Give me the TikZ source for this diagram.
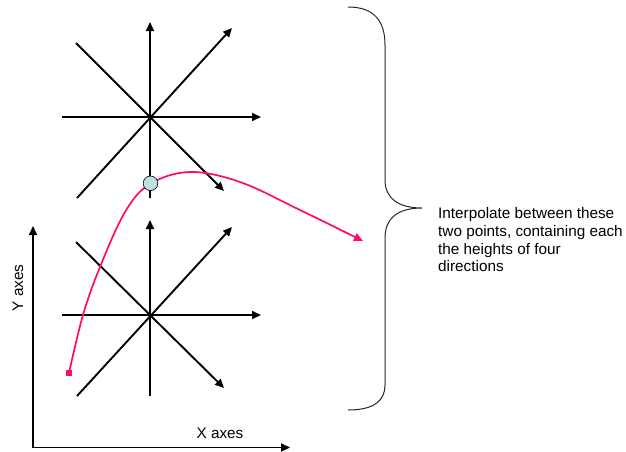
\documentclass[tikz,border=0pt]{standalone}
\usepackage{fontspec}
\setmainfont{Liberation Sans}
\usetikzlibrary{arrows.meta}
\definecolor{pinkline}{HTML}{FF0A6C}
\definecolor{dotfill}{HTML}{BEE0E0}
\begin{document}
\begin{tikzpicture}[x=1pt,y=-1pt,
  ax/.style={line width=1.9pt,black,-{Triangle[length=9pt,width=8pt]}},
  lbl/.style={font=\fontsize{15.3}{17.7}\selectfont,inner sep=0pt}]
\useasboundingbox (0,0) rectangle (626,451);
% top star
\coordinate (tS) at (150,198);
\coordinate (tN) at (150,22);
\coordinate (tW) at (62,117);
\coordinate (tE) at (261,117);
\coordinate (tSW) at (77,198);
\coordinate (tNE) at (232,28);
\coordinate (tNW) at (76,43);
\coordinate (tSE) at (224,191);
\draw[ax] (tS) -- (tN);
\draw[ax] (tW) -- (tE);
\draw[ax] (tSW) -- (tNE);
\draw[ax] (tNW) -- (tSE);
% bottom star
\coordinate (bS) at (150,396);
\coordinate (bN) at (150,220);
\coordinate (bW) at (62,315);
\coordinate (bE) at (261,315);
\coordinate (bSW) at (77,396);
\coordinate (bNE) at (232,227);
\coordinate (bNW) at (76,242);
\coordinate (bSE) at (224,388);
\draw[ax] (bS) -- (bN);
\draw[ax] (bW) -- (bE);
\draw[ax] (bSW) -- (bNE);
\draw[ax] (bNW) -- (bSE);
% axes
\coordinate (O) at (33,447.5);
\coordinate (Yend) at (33,226);
\coordinate (Xend) at (290,447.5);
\draw[ax] (O) -- (Yend);
\draw[ax] (O) -- (Xend);
\node[lbl,anchor=base] (xl) at (220,438.3) {X axes};
\node[lbl,rotate=90] (yl) at (18,288) {Y axes};
% pink curve
\coordinate (cs) at (69,373);
\draw[pinkline,line width=1.7pt,-{Triangle[length=9pt,width=8pt]}]
  plot[smooth,tension=0.6] coordinates {(69,373) (83,315) (100,267) (125,212) (150,184) (190,172) (240,182) (300,210) (363,241)};
\fill[pinkline] (cs) ++(-2.7,-2.7) rectangle ++(5.4,5.4);
\node[circle,draw=black,line width=0.6pt,fill=dotfill,minimum size=14.6pt,inner sep=0pt] (pt) at (150.5,183.3) {};
% brace
\draw[line width=1pt,black!85] (348,7) .. controls (375,7) and (385,22) .. (385,45) -- (385,180)
  .. controls (385,198) and (398,208) .. (422,208)
  .. controls (398,208) and (385,218) .. (385,238) -- (385,385)
  .. controls (385,400) and (375,410) .. (348,410);
\node[lbl,anchor=north west,align=left] (txt) at (438,207.5) {Interpolate between these\\two points, containing each\\the heights of four\\directions};
\end{tikzpicture}
\end{document}
